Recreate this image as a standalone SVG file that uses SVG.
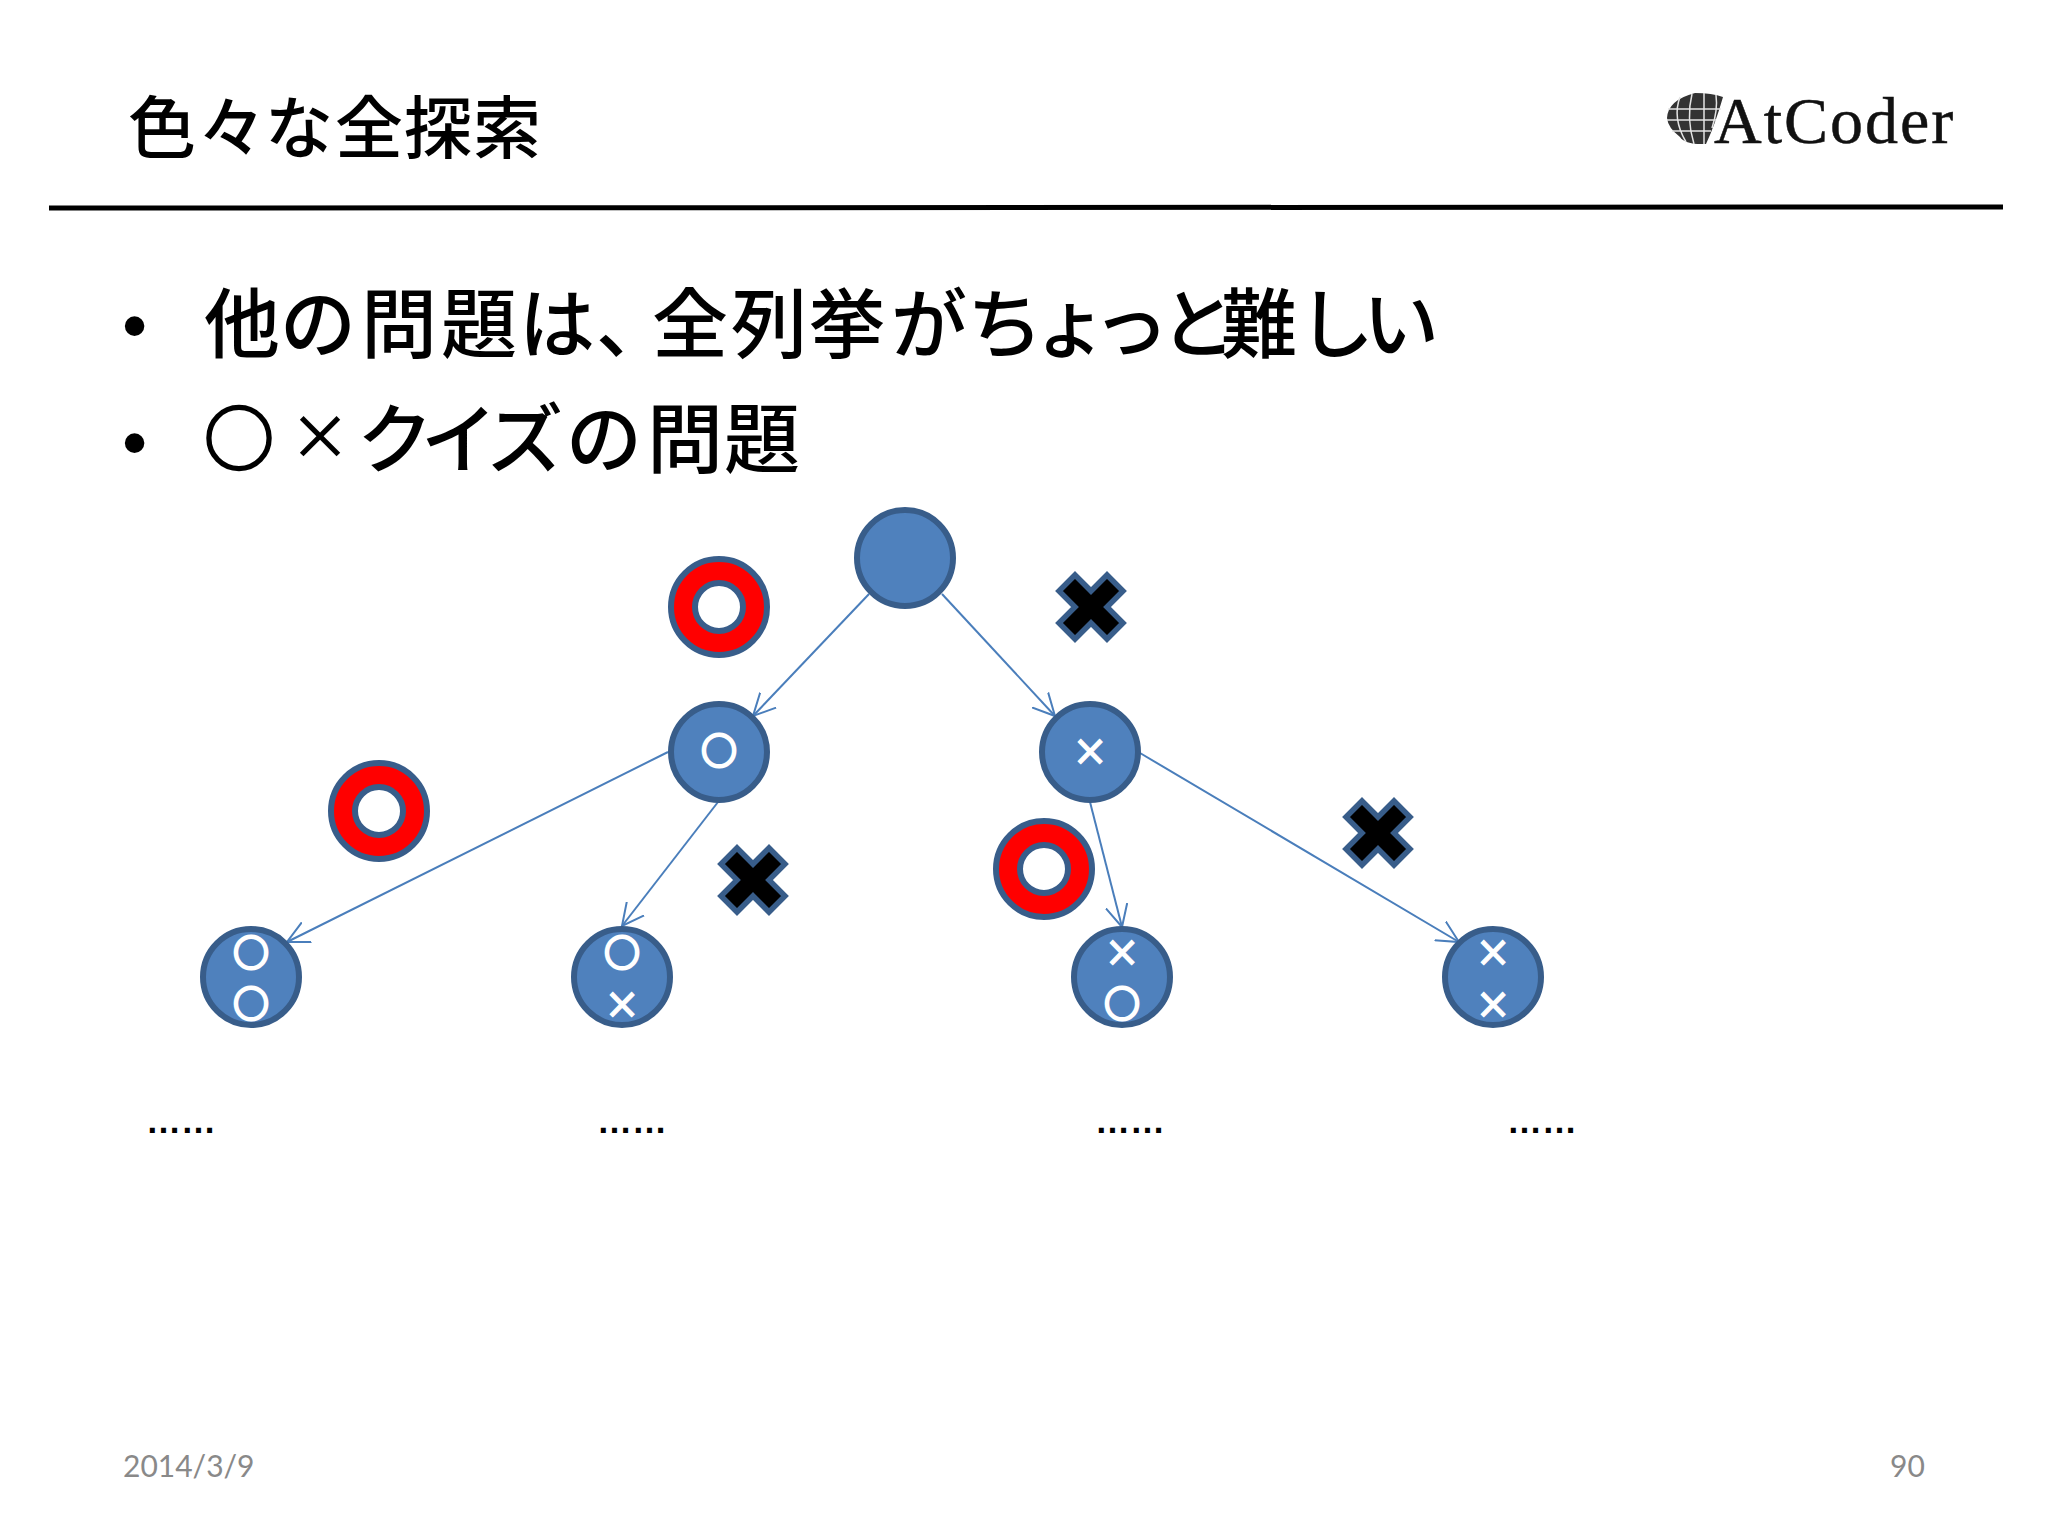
<svg xmlns="http://www.w3.org/2000/svg" width="2048" height="1536" viewBox="0 0 2048 1536">
<style>
.cjk{font-family:"Noto Sans CJK JP","Liberation Sans",sans-serif;fill:#000;font-weight:500}
.t{font-size:68px}
.b{font-size:76px}
.n{fill:#4f81bd;stroke:#385d8a;stroke-width:6}
.m{font-family:"Noto Sans CJK JP",sans-serif;font-size:35px;fill:#fff;stroke:#fff;stroke-width:3.2;text-anchor:middle}
.sx{font-family:"DejaVu Sans",sans-serif;font-size:42px;stroke-width:1.2}
.r{fill:#f00;stroke:#385d8a;stroke-width:6}
.c{fill:none;stroke:#4a7ebb;stroke-width:2;marker-end:url(#a)}
.x{fill:#000;stroke:#385d8a;stroke-width:5.5}
.d{font-family:"Liberation Sans",sans-serif;font-size:35px;font-weight:700;fill:#000}
.u{font-family:"Liberation Sans",sans-serif;font-size:72px;fill:#000}
.f{font-family:"Lato",sans-serif;font-size:30px;fill:#898989}
</style>
<defs>
<marker id="a" viewBox="0 0 12 12" refX="11" refY="6" markerUnits="userSpaceOnUse" markerWidth="24" markerHeight="24" orient="auto"><path d="M0 .5L11 6L0 11.500" fill="none" stroke="#4a7ebb" stroke-width="1"/></marker>
<path id="xs" d="M-16-32L0-16L16-32L32-16L16 0L32 16L16 32L0 16L-16 32L-32 16L-16 0L-32-16Z"/>
</defs>
<rect width="2048" height="1536" fill="#fff"/>
<g id="title"><text class="cjk t" x="128 198 265 335 404 473" y="153">色々な全探索</text></g>
<line x1="49" y1="208" x2="2003" y2="207" stroke="#000" stroke-width="5"/>
<g id="logo">
<path d="M1667 118Q1668 100 1695 93Q1712 93 1723 97Q1715 125 1706 144Q1685 145 1680 137Q1668 128 1667 118Z" fill="#333"/>
<g stroke="#e4e4e4" stroke-width="1.500" fill="none"><path d="M1668 109H1721M1667 120H1716M1672 131H1711M1680 97Q1672 118 1686 142M1692 94Q1686 118 1694 144M1704 93V144M1716 95Q1718 110 1712 128"/></g>
<text x="1714" y="143" font-family="Liberation Serif,serif" font-size="66" letter-spacing="2" fill="#111" stroke="#111" stroke-width=".5">AtCoder</text>
</g>
<g id="bullets">
<text class="u" x="122" y="350">•</text>
<text class="cjk b" x="204 280 361 441 519 596 652 731 809 891 967 1032 1093 1160 1221 1298 1363" y="352">他の問題は、全列挙がちょっと難しい</text>
<text class="u" x="122" y="467">•</text>
<text class="cjk b" y="467"><tspan x="204" style="font-size:70px;stroke:#000;stroke-width:2.500" dy="-2">○</tspan><tspan x="289" style="font-size:62px" dy="-5">×</tspan><tspan x="357 421 487 566 647 724" dy="7">クイズの問題</tspan></text>
</g>
<g id="connectors">
<line class="c" x1="869" y1="594" x2="753" y2="716"/>
<line class="c" x1="942" y1="594" x2="1055" y2="716"/>
<line class="c" x1="668" y1="752" x2="287" y2="942"/>
<line class="c" x1="718" y1="802" x2="622" y2="926"/>
<line class="c" x1="1090" y1="802" x2="1122" y2="927"/>
<line class="c" x1="1140" y1="753" x2="1459" y2="942"/>
</g>
<g id="root"><circle class="n" cx="905" cy="558" r="48"/></g>
<g id="n-o"><circle class="n" cx="719" cy="752" r="48"/><text class="m" x="719" y="764">○</text></g>
<g id="n-x"><circle class="n" cx="1090" cy="752" r="48"/><text class="m sx" x="1090" y="765">×</text></g>
<g id="n-oo"><circle class="n" cx="251" cy="977" r="48"/><text class="m" x="251" y="966">○</text><text class="m" x="251" y="1017">○</text></g>
<g id="n-ox"><circle class="n" cx="622" cy="977" r="48"/><text class="m" x="622" y="966">○</text><text class="m sx" x="622" y="1018">×</text></g>
<g id="n-xo"><circle class="n" cx="1122" cy="977" r="48"/><text class="m sx" x="1122" y="966">×</text><text class="m" x="1122" y="1017">○</text></g>
<g id="n-xx"><circle class="n" cx="1493" cy="977" r="48"/><text class="m sx" x="1493" y="966">×</text><text class="m sx" x="1493" y="1018">×</text></g>
<g id="ring1"><path class="r" fill-rule="evenodd" d="M671 607a48 48 0 1 0 96 0a48 48 0 1 0-96 0ZM695 607a24 24 0 1 1 48 0a24 24 0 1 1-48 0Z"/></g>
<g id="ring2"><path class="r" fill-rule="evenodd" d="M331 811a48 48 0 1 0 96 0a48 48 0 1 0-96 0ZM355 811a24 24 0 1 1 48 0a24 24 0 1 1-48 0Z"/></g>
<g id="ring3"><path class="r" fill-rule="evenodd" d="M996 869a48 48 0 1 0 96 0a48 48 0 1 0-96 0ZM1020 869a24 24 0 1 1 48 0a24 24 0 1 1-48 0Z"/></g>
<g id="cross1"><use href="#xs" class="x" x="1091" y="607"/></g>
<g id="cross2"><use href="#xs" class="x" x="753" y="880"/></g>
<g id="cross3"><use href="#xs" class="x" x="1378" y="833"/></g>
<g id="dots">
<text class="d" x="146" y="1133">……</text>
<text class="d" x="597" y="1133">……</text>
<text class="d" x="1095" y="1133">……</text>
<text class="d" x="1507" y="1133">……</text>
</g>
<g id="footer">
<text class="f" x="123" y="1477">2014/3/9</text>
<text class="f" x="1890" y="1477">90</text>
</g>
</svg>
